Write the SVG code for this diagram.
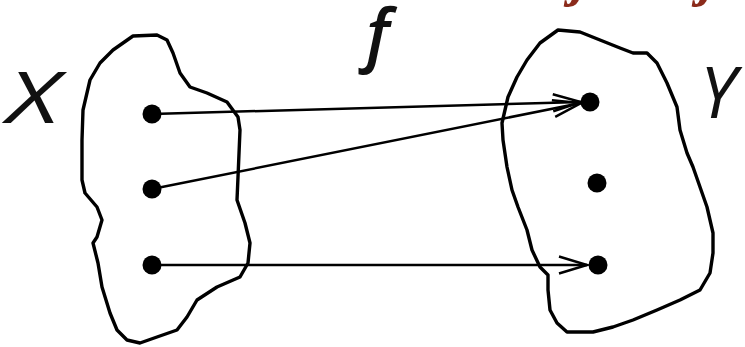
<svg xmlns="http://www.w3.org/2000/svg" width="745" height="347" viewBox="0 0 745 347">
<style>
.blob{fill:none;stroke:#000;stroke-width:3.4;stroke-linejoin:round;stroke-linecap:round}
.dot{fill:#000}
.edge{stroke:#000;stroke-width:2.5;fill:none}
.lbl{font-family:"Open Sans","Liberation Sans",sans-serif;fill:#111;font-style:italic}
.title{font-family:"Liberation Serif",serif;font-weight:bold;font-style:italic;fill:#8B2B1B;font-size:56px}
</style>
<defs>
<marker id="arr" markerUnits="userSpaceOnUse" markerWidth="40" markerHeight="30" refX="0" refY="0" viewBox="-32 -15 40 30" orient="auto" overflow="visible">
<path d="M-28,-8.5 L0,0 L-28,8.5" fill="none" stroke="#000" stroke-width="2.5"/>
</marker>
</defs>
<rect width="745" height="347" fill="#fff"/>
<g id="title">
<text class="title" x="571" y="-5">j</text>
<text class="title" x="699" y="-5">j</text>
</g>
<g id="setX">
<path class="blob" d="M83,110 L90,80 L100,63 L113,50 L133,36 L157,35 L167,40 L173,53 L180,73 L190,87 L207,93 L227,102 L238,117 L240,130 L238,177 L237,200 L245,223 L250,243 L248,263 L240,277 L217,287 L197,300 L187,317 L177,330 L157,337 L140,343 L127,340 L117,330 L110,313 L102,287 L98,263 L93,243 L97,237 L102,220 L97,207 L85,193 L82,180 L82,140 Z"/>
<text class="lbl" x="7" y="123" font-size="72" textLength="52" lengthAdjust="spacingAndGlyphs">X</text>
</g>
<g id="setY">
<path class="blob" d="M558,30 L580,32 L600,40 L620,48 L633,53 L647,53 L657,63 L667,83 L677,107 L680,130 L687,153 L693,167 L700,187 L707,207 L713,233 L713,253 L710,273 L700,290 L680,300 L657,310 L633,320 L613,327 L593,332 L567,332 L557,323 L550,310 L548,290 L548,275 L540,267 L532,250 L527,230 L518,207 L512,190 L507,167 L503,140 L502,123 L508,97 L517,77 L527,60 L540,43 Z"/>
<text class="lbl" x="700" y="118" font-size="71">Y</text>
</g>
<g id="x1"><circle class="dot" cx="152" cy="114" r="9.5"/></g>
<g id="x2"><circle class="dot" cx="152" cy="189" r="9.5"/></g>
<g id="x3"><circle class="dot" cx="152" cy="265" r="9.5"/></g>
<g id="y1"><circle class="dot" cx="590" cy="102" r="9.5"/></g>
<g id="y2"><circle class="dot" cx="597" cy="183" r="9.5"/></g>
<g id="y3"><circle class="dot" cx="598" cy="265" r="9.5"/></g>
<g id="f-label"><text class="lbl" x="366" y="58" font-size="68" font-weight="600">f</text></g>
<g id="connectors">
<line class="edge" x1="152" y1="114" x2="581" y2="102" marker-end="url(#arr)"/>
<line class="edge" x1="152" y1="189" x2="581" y2="103" marker-end="url(#arr)"/>
<line class="edge" x1="152" y1="265" x2="587" y2="265" marker-end="url(#arr)"/>
</g>
</svg>
